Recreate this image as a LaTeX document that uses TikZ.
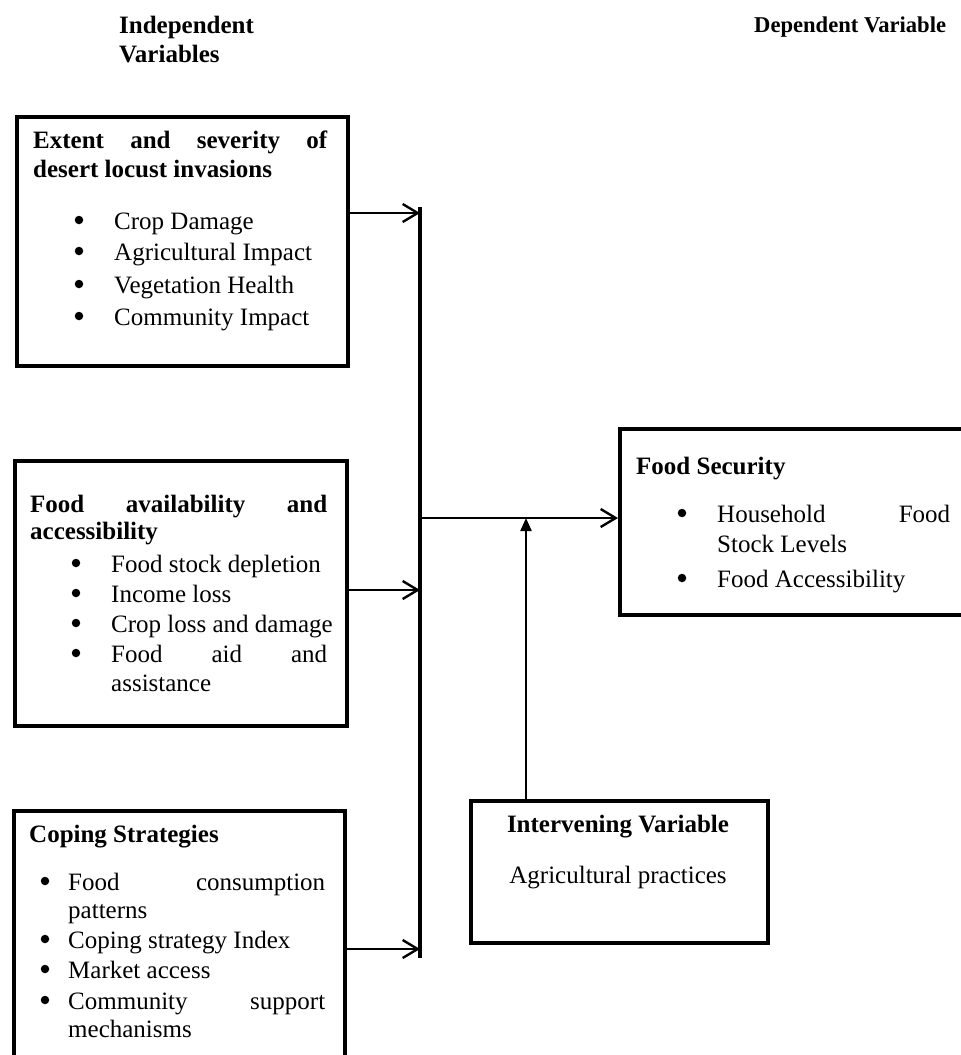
\documentclass[tikz,border=0pt]{standalone}
\usepackage{fontspec}
\setmainfont{Liberation Serif}
\usetikzlibrary{arrows.meta}
\tikzset{
  boxframe/.style={draw=black, line width=4pt, rectangle, inner sep=0pt, anchor=north west},
  txt/.style={inner sep=0pt, anchor=base west, font=\fontsize{25pt}{30pt}\selectfont},
  ctxt/.style={inner sep=0pt, anchor=base, font=\fontsize{25pt}{30pt}\selectfont},
  dot/.style={circle, fill=black, draw=none, inner sep=0pt, minimum size=8.5pt, yshift=9pt},
  head/.style={inner sep=0pt, anchor=base west, font=\fontsize{25pt}{30pt}\selectfont\bfseries},
  openarrow/.style={line width=2.4pt, -{Straight Barb[length=15pt,width=18pt,line width=2.4pt]}},
  triarrow/.style={line width=2.2pt, -{Triangle[length=13pt,width=11pt]}},
  barline/.style={line width=3.2pt},
}
\begin{document}
\begin{tikzpicture}[x=1pt,y=-1pt]
\useasboundingbox (0,0) rectangle (961,1055);
\clip (0,0) rectangle (961,1055);
\fill[white] (0,0) rectangle (961,1055);

% top labels
\node[head] (indep1) at (119,33) {Independent};
\node[head] (indep2) at (119,62) {Variables};
\node[inner sep=0pt, anchor=base west, font=\fontsize{22.6pt}{27pt}\selectfont\bfseries] (dep) at (754,32) {Dependent Variable};

% boxes
\node[boxframe, minimum width=331pt, minimum height=249pt] (b1) at (15,115) {};
\node[boxframe, minimum width=332pt, minimum height=265pt] (b2) at (13,459) {};
\node[boxframe, minimum width=331pt, minimum height=270pt] (b3) at (12,809) {};
\node[boxframe, minimum width=360pt, minimum height=186pt] (fs) at (618,427) {};
\node[boxframe, minimum width=297pt, minimum height=142pt] (iv) at (469,799) {};

% box 1 text
\node[head] (t1a) at (33,148) {\makebox[294pt][s]{Extent and severity of}};
\node[head] (t1b) at (33,177) {desert locust invasions};
\foreach \y/\t [count=\i] in {229/Crop Damage,260/Agricultural Impact,293/Vegetation Health,325/Community Impact}{
  \node[dot] (b1b\i) at (79,\y) {};
  \node[txt] (b1t\i) at (114,\y) {\t};
}

% box 2 text
\node[head] (t2a) at (30,512) {\makebox[297pt][s]{Food availability and}};
\node[head] (t2b) at (30,539) {accessibility};
\node[dot] (b2b1) at (76,572) {};
\node[txt] (b2t1) at (111,572) {Food stock depletion};
\node[dot] (b2b2) at (76,602) {};
\node[txt] (b2t2) at (111,602) {Income loss};
\node[dot] (b2b3) at (76,632) {};
\node[txt] (b2t3) at (111,632) {Crop loss and damage};
\node[dot] (b2b4) at (76,662) {};
\node[txt] (b2t4) at (111,662) {\makebox[216pt][s]{Food aid and}};
\node[txt] (b2t5) at (111,691) {assistance};

% box 3 text
\node[head] (t3a) at (29,842) {Coping Strategies};
\node[dot] (b3b1) at (45,890) {};
\node[txt] (b3t1) at (68,890) {\makebox[257pt][s]{Food consumption}};
\node[txt] (b3t1b) at (68,918) {patterns};
\node[dot] (b3b2) at (45,948) {};
\node[txt] (b3t2) at (68,948) {Coping strategy Index};
\node[dot] (b3b3) at (45,978) {};
\node[txt] (b3t3) at (68,978) {Market access};
\node[dot] (b3b4) at (45,1009) {};
\node[txt] (b3t4) at (68,1009) {\makebox[257pt][s]{Community support}};
\node[txt] (b3t4b) at (68,1037) {mechanisms};

% food security text
\node[head] (fsh) at (636,474) {Food Security};
\node[dot] (fsb1) at (682,522) {};
\node[txt] (fst1) at (717,522) {\makebox[233pt][s]{Household Food}};
\node[txt] (fst1b) at (717,552) {Stock Levels};
\node[dot] (fsb2) at (682,587) {};
\node[txt] (fst2) at (717,587) {Food Accessibility};

% intervening text
\node[inner sep=0pt, anchor=base, font=\fontsize{25pt}{30pt}\selectfont\bfseries] (ivh) at (618,832) {Intervening Variable};
\node[ctxt] (ivt) at (618,883) {Agricultural practices};

% connectors
\coordinate (bartop) at (420,207);
\coordinate (barbot) at (420,958);
\coordinate (j1) at (420,213);
\coordinate (j2) at (420,590);
\coordinate (j3) at (420,949);
\coordinate (jm) at (420,518);
\coordinate (jv) at (526,518);

\draw[barline] (bartop) -- (barbot);
\draw[openarrow] (b1.east |- j1) -- (j1);
\draw[openarrow] (b2.east |- j2) -- (j2);
\draw[openarrow] (b3.east |- j3) -- (j3);
\draw[openarrow] (jm) -- (fs.west |- jm);
\draw[triarrow] (iv.north -| jv) -- (jv);
\end{tikzpicture}
\end{document}
